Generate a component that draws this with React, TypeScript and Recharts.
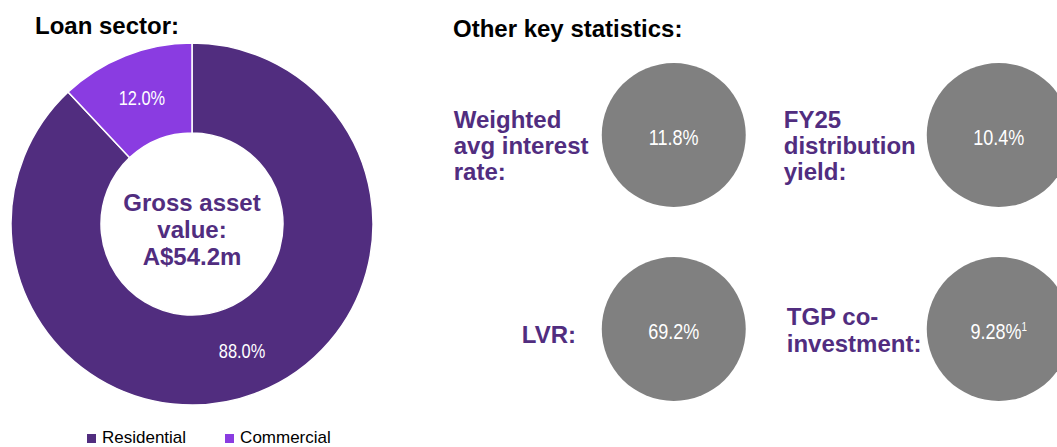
import { Cell, Label, Legend, Pie, PieChart, Scatter, ScatterChart, XAxis, YAxis } from 'recharts'

const sectors = ['Residential', 'Commercial']
const sectorShares = [88.0, 12.0]
const sectorColors = ['#512D7F', '#8A3CE1']

const centerLines = ['Gross asset', 'value:', 'A$54.2m']

const statLabels = [
  ['Weighted', 'avg interest', 'rate:'],
  ['FY25', 'distribution', 'yield:'],
  ['LVR:'],
  ['TGP co-', 'investment:'],
]
const statValues = [11.8, 10.4, 69.2, 9.28]
const statFootnotes = ['', '', '', '1']

const PURPLE = '#512D7F'
const FONT = '"Liberation Sans", Arial, sans-serif'
// no narrow face installed, so squeeze the regular one
const SQUEEZE = 0.82

// label placement relative to circle centre, one per stat
const labelLayout = [
  { dx: -220, dys: [-7, 19, 45] },
  { dx: -215, dys: [-7, 19, 45] },
  { dx: -152, dys: [14] },
  { dx: -212, dys: [-4, 23] },
]

const pieData = sectors.map((name, i) => ({ name, value: sectorShares[i] }))
const statData = statValues.map((value, i) => ({
  col: i % 2,
  row: Math.floor(i / 2),
  value,
  note: statFootnotes[i],
  lines: statLabels[i],
  idx: i,
}))

function renderSliceLabel(props: any) {
  const { cx, cy, midAngle, innerRadius, outerRadius, value } = props
  const r = (innerRadius + outerRadius) / 2
  const rad = (Math.PI / 180) * midAngle
  const x = cx + r * Math.cos(rad)
  const y = cy - r * Math.sin(rad)
  return (
    <text
      transform={`translate(${x},${y}) scale(${SQUEEZE},1)`}
      fill="#fff"
      fontFamily={FONT}
      fontSize={20}
      textAnchor="middle"
      dominantBaseline="central"
    >
      {`${Number(value).toFixed(1)}%`}
    </text>
  )
}

function CenterText(props: any) {
  const vb = props.viewBox || {}
  const cx = vb.cx ?? 192
  const cy = vb.cy ?? 224
  return (
    <text x={cx} textAnchor="middle" fontFamily={FONT} fontWeight="bold" fontSize={24} fill={PURPLE}>
      {centerLines.map((line, i) => (
        <tspan key={line} x={cx} y={cy - 13 + i * 27}>
          {line}
        </tspan>
      ))}
    </text>
  )
}

function SectorLegend() {
  return (
    <div style={{ display: 'flex', alignItems: 'center', fontFamily: FONT, fontSize: 17, color: '#000', lineHeight: '18px' }}>
      {pieData.map((d, i) => (
        <span key={d.name} style={{ display: 'flex', alignItems: 'center', marginRight: 39 }}>
          <span style={{ width: 9, height: 9, background: sectorColors[i], marginRight: 6 }} />
          {d.name}
        </span>
      ))}
    </div>
  )
}

function StatShape(props: any) {
  const { cx, cy, payload } = props
  const lay = labelLayout[payload.idx]
  return (
    <g>
      <circle cx={cx} cy={cy} r={72} fill="#808080" />
      <text
        transform={`translate(${cx},${cy + 10}) scale(${SQUEEZE},1)`}
        fill="#fff"
        fontFamily={FONT}
        fontSize={22}
        textAnchor="middle"
      >
        {`${payload.value}%`}
        {payload.note ? (
          <tspan fontSize={12} dy={-8}>
            {payload.note}
          </tspan>
        ) : null}
      </text>
      <text fontFamily={FONT} fontWeight="bold" fontSize={24} fill={PURPLE}>
        {payload.lines.map((line: string, i: number) => (
          <tspan key={line} x={cx + lay.dx} y={cy + lay.dys[i]}>
            {line}
          </tspan>
        ))}
      </text>
    </g>
  )
}

export default function App() {
  return (
    <div style={{ position: 'relative', width: 1057, height: 447, overflow: 'hidden', background: '#fff', fontFamily: FONT }}>
      <style>{'body{margin:0}'}</style>
      <div style={{ position: 'absolute', left: 35, top: 12, fontSize: 24, fontWeight: 'bold', color: '#000', lineHeight: '28px' }}>
        Loan sector:
      </div>
      <div style={{ position: 'absolute', left: 453, top: 15, fontSize: 24, fontWeight: 'bold', color: '#000', lineHeight: '28px' }}>
        Other key statistics:
      </div>

      <div style={{ position: 'absolute', left: 0, top: 0 }}>
        <PieChart width={400} height={447} margin={{ top: 0, right: 0, bottom: 0, left: 0 }}>
          <Pie
            data={pieData}
            dataKey="value"
            nameKey="name"
            cx={192}
            cy={224}
            innerRadius={91}
            outerRadius={181}
            startAngle={90}
            endAngle={-270}
            stroke="#fff"
            strokeWidth={1.5}
            label={renderSliceLabel}
            labelLine={false}
            isAnimationActive={false}
          >
            {pieData.map((d, i) => (
              <Cell key={d.name} fill={sectorColors[i]} />
            ))}
            <Label position="center" content={CenterText} />
          </Pie>
          <Legend content={SectorLegend} wrapperStyle={{ position: 'absolute', left: 87, top: 429, width: 320, height: 18 }} />
        </PieChart>
      </div>

      <div style={{ position: 'absolute', left: 430, top: 38 }}>
        <ScatterChart width={650} height={388} margin={{ top: 0, right: 0, bottom: 0, left: 0 }}>
          <XAxis type="number" dataKey="col" domain={[-0.75, 1.25]} hide allowDataOverflow />
          <YAxis type="number" dataKey="row" domain={[-0.5, 1.5]} reversed hide allowDataOverflow />
          <Scatter data={statData} shape={StatShape} isAnimationActive={false} />
        </ScatterChart>
      </div>
    </div>
  )
}
